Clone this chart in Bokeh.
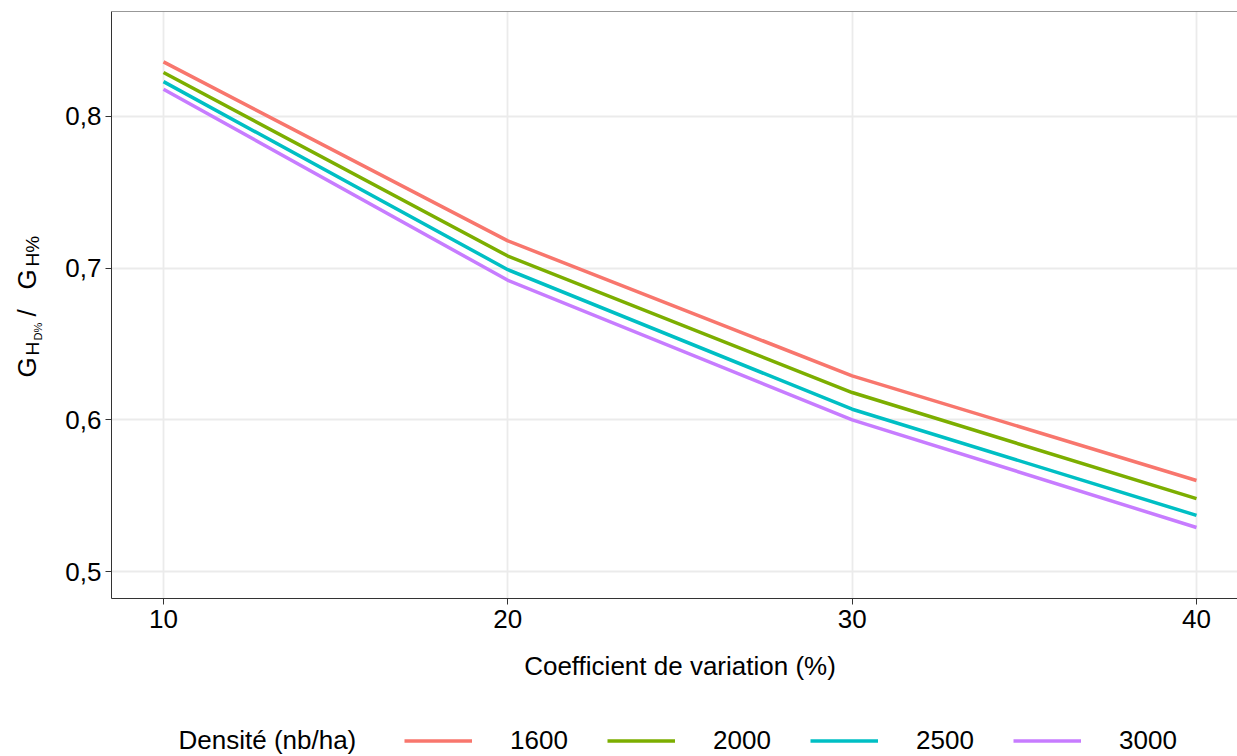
import math
from bokeh.plotting import figure
from bokeh.layouts import row, column
from bokeh.models import (Range1d, FixedTicker, CustomJSTickFormatter, Label, Legend,
                          LegendItem, Span)
from bokeh.embed import file_html
from bokeh.resources import INLINE

# ---- data ----
cv = [10, 20, 30, 40]
densites = ["1600", "2000", "2500", "3000"]
d1600 = [0.836, 0.718, 0.629, 0.560]
d2000 = [0.829, 0.708, 0.618, 0.548]
d2500 = [0.823, 0.699, 0.607, 0.537]
d3000 = [0.818, 0.692, 0.600, 0.529]
series = [d1600, d2000, d2500, d3000]
colors = ["#F8766D", "#7CAE00", "#00BFC4", "#C77CFF"]
x_ticks = [10, 20, 30, 40]
y_ticks = [0.5, 0.6, 0.7, 0.8]

FONT = "Liberation Sans"
TOTAL_W, TOTAL_H = 1237, 756
YLAB_W = 60
MAIN_H = 640
BOTTOM_H = TOTAL_H - MAIN_H


def blank_fig(w, h):
    f = figure(width=w, height=h, output_backend="svg", toolbar_location=None,
               x_axis_type=None, y_axis_type=None,
               x_range=Range1d(0, 1), y_range=Range1d(0, 1),
               min_border_left=0, min_border_right=0, min_border_top=0,
               min_border_bottom=0)
    f.title.visible = False
    f.outline_line_color = None
    f.grid.visible = False
    f.background_fill_color = "white"
    f.border_fill_color = "white"
    return f


# ---- main plot ----
p = figure(width=TOTAL_W - YLAB_W, height=MAIN_H, output_backend="svg",
           toolbar_location=None,
           x_range=Range1d(8.4898, 41.1907), y_range=Range1d(0.4822, 0.86923),
           min_border_left=51, min_border_right=0, min_border_top=11,
           min_border_bottom=42)
p.title.visible = False
p.outline_line_color = None
p.background_fill_color = "white"
p.border_fill_color = "white"

for vals, col in zip(series, colors):
    p.line(cv, vals, line_color=col, line_width=3.5)

for ax in (p.xaxis[0], p.yaxis[0]):
    ax.axis_line_color = "#333333"
    ax.axis_line_width = 1
    ax.major_tick_line_color = "#333333"
    ax.major_tick_line_width = 1
    ax.major_tick_out = 6
    ax.major_tick_in = 0
    ax.minor_tick_line_color = None
    ax.major_label_text_font = FONT
    ax.major_label_text_font_size = "26px"
    ax.major_label_text_color = "#000000"

p.xaxis[0].ticker = FixedTicker(ticks=x_ticks)
p.yaxis[0].ticker = FixedTicker(ticks=y_ticks)
p.xaxis[0].major_label_standoff = 5
p.yaxis[0].major_label_standoff = 4
p.yaxis[0].formatter = CustomJSTickFormatter(code="return tick.toFixed(1).replace('.', ',');")

p.xgrid[0].ticker = FixedTicker(ticks=x_ticks)
p.ygrid[0].ticker = FixedTicker(ticks=y_ticks)
for g in (p.xgrid[0], p.ygrid[0]):
    g.grid_line_color = "#EBEBEB"
    g.grid_line_width = 1.8
    g.minor_grid_line_color = None

# top border of the panel
p.add_layout(Span(location=0.86923, dimension="width", line_color="#333333", line_width=1))

# ---- y axis title: G_{H_{D%}}  /  G_{H%} (frame aligned with the main plot frame) ----
ylab = blank_fig(YLAB_W, MAIN_H)
ylab_parts = [
    ("G", 26, 221, "26px"),
    ("H", 31.5, 243, "19px"),
    ("D%", 37, 258, "11px"),
    ("/", 26, 282, "26px"),
    ("G", 26, 309, "26px"),
    ("H%", 31.5, 332, "19px"),
]
for txt, xx, yy, fs in ylab_parts:
    ylab.add_layout(Label(x=xx, y=yy, x_units="screen", y_units="screen", text=txt,
                          angle=math.pi / 2, text_font=FONT, text_font_size=fs,
                          text_align="left", text_baseline="middle",
                          text_color="#000000"))

# ---- bottom strip: x title + legend ----
bot = blank_fig(TOTAL_W, BOTTOM_H)
bot.add_layout(Label(x=679.5, y=91, x_units="screen", y_units="screen",
                     text="Coefficient de variation (%)", text_font=FONT,
                     text_font_size="26px", text_align="center",
                     text_baseline="middle", text_color="#000000"))
bot.add_layout(Label(x=178, y=16.5, x_units="screen", y_units="screen",
                     text="Densité (nb/ha)", text_font=FONT, text_font_size="26px",
                     text_align="left", text_baseline="middle",
                     text_color="#000000"))

# legend keys: same series, drawn outside this strip's (0..1) ranges, only their keys show
legend_renderers = [bot.line(cv, vals, line_color=col, line_width=3.5)
                    for vals, col in zip(series, colors)]
items = [LegendItem(label=lab, renderers=[r]) for lab, r in zip(densites, legend_renderers)]
legend = Legend(items=items, orientation="horizontal", location=(404, 0),
                glyph_width=68, glyph_height=25, label_standoff=38, spacing=39,
                padding=0, margin=0, border_line_color=None,
                background_fill_alpha=0, label_text_font=FONT,
                label_text_font_size="26px", label_height=25, label_width=58,
                label_text_color="#000000")
bot.add_layout(legend)

layout = column(row(ylab, p), bot)
open("out.html", "w").write(file_html(layout, INLINE))
